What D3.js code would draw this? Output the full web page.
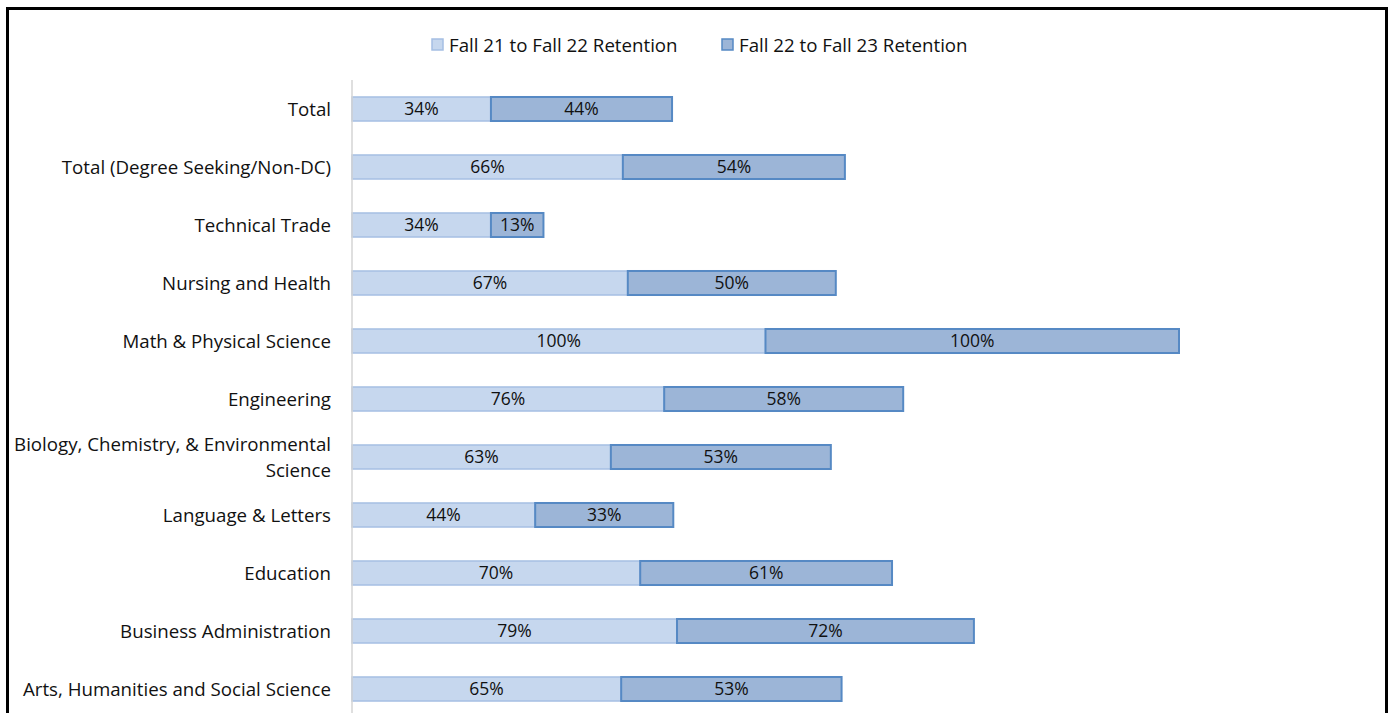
<!DOCTYPE html>
<html>
<head>
<meta charset="utf-8">
<script src="https://cdn.jsdelivr.net/npm/d3@7"></script>
<style>
  body { margin: 0; background: #fff; }
  svg text { font-family: "Open Sans", Lato, sans-serif; fill: #111; }
</style>
</head>
<body>
<div id="chart"></div>
<script>
// categories top to bottom
var categories = [
  'Total',
  'Total (Degree Seeking/Non-DC)',
  'Technical Trade',
  'Nursing and Health',
  'Math & Physical Science',
  'Engineering',
  'Biology, Chemistry, & Environmental Science',
  'Language & Letters',
  'Education',
  'Business Administration',
  'Arts, Humanities and Social Science'
];
var seriesNames = ['Fall 21 to Fall 22 Retention', 'Fall 22 to Fall 23 Retention'];
var fall21 = [0.336, 0.655, 0.336, 0.667, 1.00, 0.755, 0.626, 0.443, 0.697, 0.786, 0.651];
var fall22 = [0.438, 0.537, 0.127, 0.503, 1.00, 0.578, 0.532, 0.334, 0.609, 0.718, 0.533];

var W = 1395, H = 713;
var margin = { top: 80, left: 352 };
var plotW = 827, step = 58;

var svg = d3.select('#chart').append('svg').attr('width', W).attr('height', H);

// outer frame
svg.append('rect').attr('x', 7.5).attr('y', 8.5).attr('width', 1379).attr('height', 720)
  .attr('fill', 'none').attr('stroke', '#000').attr('stroke-width', 3);

var x = d3.scaleLinear().domain([0, 2]).range([0, plotW]);
var y = d3.scaleBand().domain(categories).range([0, step * categories.length]).paddingInner(0.586).paddingOuter(0.293);

var g = svg.append('g').attr('transform', 'translate(' + margin.left + ',' + margin.top + ')');

var colors = [
  { fill: '#c6d7ee', stroke: '#a5bfe3' },
  { fill: '#9cb5d7', stroke: '#5689c4' }
];

var rows = categories.map(function (c, i) { return { cat: c, a: fall21[i], b: fall22[i] }; });

var row = g.selectAll('.row').data(rows).enter().append('g').classed('row', true);

// series 1
row.append('rect')
  .attr('x', function (d) { return x(0); })
  .attr('y', function (d) { return y(d.cat); })
  .attr('width', function (d) { return x(d.a) - x(0); })
  .attr('height', y.bandwidth())
  .attr('fill', colors[0].fill).attr('stroke', colors[0].stroke).attr('stroke-width', 1.5);

// series 2
row.append('rect')
  .attr('x', function (d) { return x(d.a); })
  .attr('y', function (d) { return y(d.cat); })
  .attr('width', function (d) { return x(d.a + d.b) - x(d.a); })
  .attr('height', y.bandwidth())
  .attr('fill', colors[1].fill).attr('stroke', colors[1].stroke).attr('stroke-width', 2);

var fmt = d3.format('.0%');
row.append('text')
  .attr('x', function (d) { return x(d.a / 2); })
  .attr('y', function (d) { return y(d.cat) + y.bandwidth() / 2; })
  .attr('dy', '0.36em').attr('text-anchor', 'middle').style('font-size', '17.5px')
  .text(function (d) { return fmt(d.a); });
row.append('text')
  .attr('x', function (d) { return x(d.a + d.b / 2); })
  .attr('y', function (d) { return y(d.cat) + y.bandwidth() / 2; })
  .attr('dy', '0.36em').attr('text-anchor', 'middle').style('font-size', '17.5px')
  .text(function (d) { return fmt(d.b); });

// category axis line
g.append('line').attr('x1', 0).attr('x2', 0).attr('y1', 0).attr('y2', step * categories.length)
  .attr('stroke', '#d4d4d4').attr('stroke-width', 1.5);

// category labels (wrap the long one)
var labels = g.selectAll('.cat').data(categories).enter().append('text').classed('cat', true)
  .attr('text-anchor', 'end').style('font-size', '18.7px')
  .attr('transform', function (d) { return 'translate(-21,' + (y(d) + y.bandwidth() / 2) + ')'; });
labels.each(function (d) {
  var t = d3.select(this);
  var lines = d.length > 36 ? ['Biology, Chemistry, & Environmental', 'Science'] : [d];
  var off = -(lines.length - 1) * 13;
  lines.forEach(function (l, i) {
    t.append('tspan').attr('x', 0).attr('y', off + i * 26).attr('dy', '0.36em').text(l);
  });
});

// legend
var legend = svg.append('g').classed('legend', true);
var legX = [432, 722];
seriesNames.forEach(function (n, i) {
  var lg = legend.append('g').attr('transform', 'translate(' + legX[i] + ',39)');
  lg.append('rect').attr('width', 11).attr('height', 11)
    .attr('fill', colors[i].fill).attr('stroke', colors[i].stroke).attr('stroke-width', 1.5);
  lg.append('text').attr('x', 17).attr('y', 6).attr('dy', '0.36em').style('font-size', '18.7px').text(n);
});
</script>
</body>
</html>
